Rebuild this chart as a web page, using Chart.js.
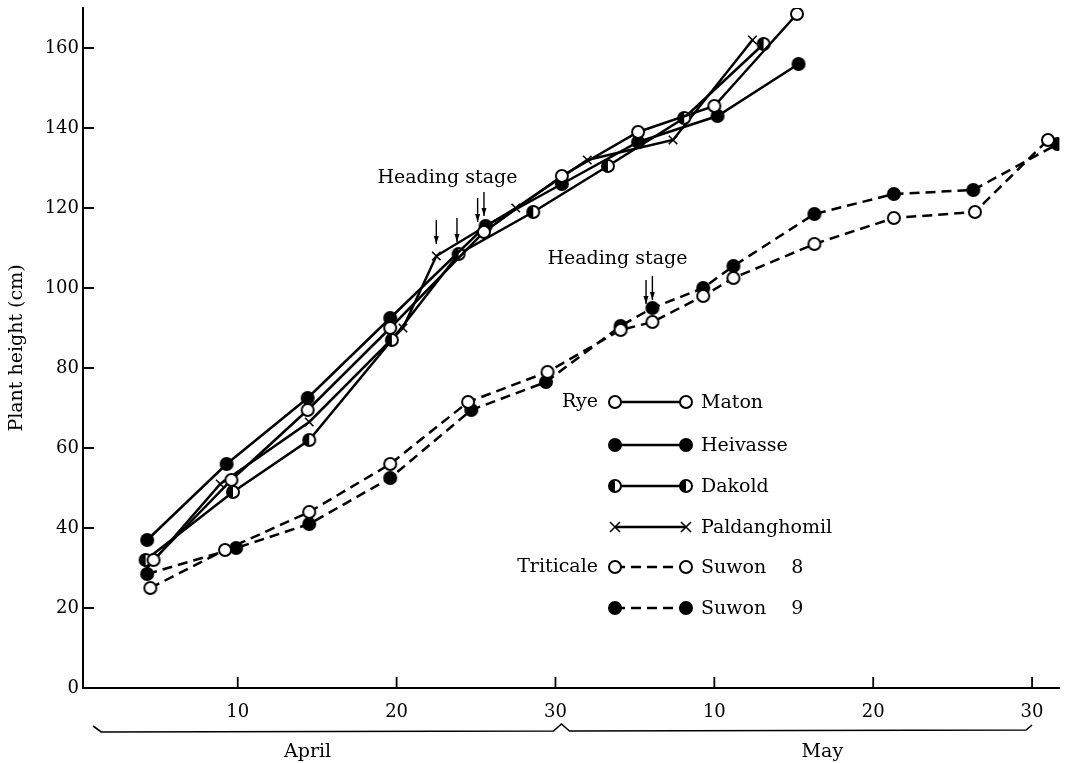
<!DOCTYPE html>
<html>
<head>
<meta charset="utf-8">
<script src="https://cdn.jsdelivr.net/npm/chart.js@4.4.1/dist/chart.umd.min.js"></script>
<style>
  body { margin: 0; background: #fff; }
  #wrap { width: 1067px; height: 763px; }
</style>
</head>
<body>
<div id="wrap"><canvas id="chart"></canvas></div>
<script>
// days counted from April 1 (day 30 = April 30, day 40 = May 10)
const matonDays = [4.7, 9.6, 14.4, 19.6, 25.5, 30.4, 35.2, 40.0, 45.2];
const matonHeight = [32, 52, 69.5, 90, 114, 128, 139, 145.5, 168.5];

const heivasseDays = [4.3, 9.3, 14.4, 19.6, 25.6, 30.4, 35.2, 40.2, 45.3];
const heivasseHeight = [37, 56, 72.5, 92.5, 115.5, 126, 136.5, 143, 156];

const dakoldDays = [4.2, 9.7, 14.5, 19.7, 23.9, 28.6, 33.3, 38.1, 43.1];
const dakoldHeight = [32, 49, 62, 87, 108.5, 119, 130.5, 142.5, 161];

const paldDays = [4.3, 8.9, 14.5, 20.4, 22.5, 27.5, 32.0, 37.4, 42.4];
const paldHeight = [30, 51, 66.5, 90, 108, 120, 132, 137, 162];

const suwon8Days = [4.5, 9.2, 14.5, 19.6, 24.5, 29.5, 34.1, 36.1, 39.3, 41.2, 46.3, 51.3, 56.4, 61.0];
const suwon8Height = [25, 34.5, 44, 56, 71.5, 79, 89.5, 91.5, 98, 102.5, 111, 117.5, 119, 137];

const suwon9Days = [4.3, 9.9, 14.5, 19.6, 24.7, 29.4, 34.1, 36.1, 39.3, 41.2, 46.3, 51.3, 56.3, 61.6];
const suwon9Height = [28.5, 35, 41, 52.5, 69.5, 76.5, 90.5, 95, 100, 105.5, 118.5, 123.5, 124.5, 136];

const xTickDays = [10, 20, 30, 40, 50, 60];
const xTickLabels = ['10', '20', '30', '10', '20', '30'];
const yTickValues = [0, 20, 40, 60, 80, 100, 120, 140, 160];

// heading stage arrows: [day, plant height at arrow tip]
const ryeHeading = [[22.5, 110], [23.8, 110.5], [25.1, 115.5], [25.5, 117]];
const triticaleHeading = [[35.7, 95], [36.1, 96]];

const legendNames = ['Maton', 'Heivasse', 'Dakold', 'Paldanghomil', 'Suwon\u2003 8', 'Suwon\u2003 9'];
const groupNames = ['Rye', 'Triticale'];

const SERIF = '"DejaVu Serif", "Liberation Serif", serif';

function makeMarker(kind) {
  const c = document.createElement('canvas');
  c.width = 16; c.height = 16;
  const g = c.getContext('2d');
  g.lineWidth = 2;
  g.strokeStyle = '#000';
  g.beginPath();
  g.arc(8, 8, 6, 0, Math.PI * 2);
  g.fillStyle = kind === 'filled' ? '#000' : '#fff';
  g.fill();
  g.stroke();
  if (kind === 'half') {
    g.beginPath();
    g.arc(8, 8, 6, Math.PI / 2, Math.PI * 1.5);
    g.closePath();
    g.fillStyle = '#000';
    g.fill();
  }
  return c;
}

const markers = {
  open: makeMarker('open'),
  filled: makeMarker('filled'),
  half: makeMarker('half')
};

const pts = (days, h) => days.map((d, i) => ({ x: d, y: h[i] }));

function series(label, days, h, style, dashed) {
  return {
    label: label,
    data: pts(days, h),
    borderColor: '#000',
    borderWidth: 2.5,
    borderDash: dashed ? [10, 6] : [],
    pointStyle: style === 'cross' ? 'crossRot' : markers[style],
    pointRadius: 6,
    pointBorderWidth: 1.6,
    pointBorderColor: '#000',
    pointBackgroundColor: '#000',
    tension: 0,
    fill: false
  };
}

const legendStyles = ['open', 'filled', 'half', 'cross', 'open', 'filled'];

function drawMark(ctx, style, x, y) {
  if (style === 'cross') {
    ctx.save();
    ctx.lineWidth = 1.6;
    ctx.beginPath();
    ctx.moveTo(x - 5, y - 5); ctx.lineTo(x + 5, y + 5);
    ctx.moveTo(x + 5, y - 5); ctx.lineTo(x - 5, y + 5);
    ctx.stroke();
    ctx.restore();
  } else {
    ctx.drawImage(markers[style], x - 8, y - 8);
  }
}

const extras = {
  id: 'extras',
  afterDraw(chart) {
    const ctx = chart.ctx;
    const xs = chart.scales.x, ys = chart.scales.y;
    const area = chart.chartArea;
    ctx.save();
    ctx.strokeStyle = '#000';
    ctx.fillStyle = '#000';

    // inward tick marks
    ctx.lineWidth = 1.8;
    ctx.beginPath();
    xTickDays.forEach(d => {
      const px = xs.getPixelForValue(d);
      ctx.moveTo(px, area.bottom);
      ctx.lineTo(px, area.bottom - 11);
    });
    yTickValues.forEach(v => {
      if (v === 0) return;
      const py = ys.getPixelForValue(v);
      ctx.moveTo(area.left, py);
      ctx.lineTo(area.left + 11, py);
    });
    ctx.stroke();

    // month braces
    const bY = area.bottom + 44;
    const xa = xs.getPixelForValue(0.9);
    const xm = xs.getPixelForValue(30) + 6;
    const xe = xs.getPixelForValue(60);
    ctx.lineWidth = 1.6;
    ctx.beginPath();
    ctx.moveTo(xa, bY - 6);
    ctx.lineTo(xa + 8, bY);
    ctx.lineTo(xm - 8, bY - 1);
    ctx.lineTo(xm, bY - 8);
    ctx.lineTo(xm + 8, bY - 1);
    ctx.lineTo(xe - 6, bY - 2);
    ctx.lineTo(xe, bY - 7);
    ctx.stroke();

    ctx.font = '19px ' + SERIF;
    ctx.textAlign = 'center';
    ctx.textBaseline = 'middle';
    ctx.fillText('April', xs.getPixelForValue(14.4), bY + 20);
    ctx.fillText('May', xs.getPixelForValue(46.8), bY + 20);

    // heading stage
    ctx.fillText('Heading stage', xs.getPixelForValue(23.2), ys.getPixelForValue(127.6));
    ctx.fillText('Heading stage', xs.getPixelForValue(33.9), ys.getPixelForValue(107.3));
    const arrow = (d, v) => {
      const x = xs.getPixelForValue(d);
      const y = ys.getPixelForValue(v) - 4;
      ctx.lineWidth = 1.4;
      ctx.beginPath();
      ctx.moveTo(x, y - 24);
      ctx.lineTo(x, y);
      ctx.stroke();
      ctx.beginPath();
      ctx.moveTo(x - 2.5, y - 8);
      ctx.lineTo(x + 2.5, y - 8);
      ctx.lineTo(x, y);
      ctx.closePath();
      ctx.fill();
    };
    ryeHeading.forEach(a => arrow(a[0], a[1]));
    triticaleHeading.forEach(a => arrow(a[0], a[1]));

    // legend
    const rows = [402, 445, 486, 527, 567, 608];
    const lx1 = 615, lx2 = 686;
    ctx.textAlign = 'left';
    rows.forEach((y, i) => {
      ctx.lineWidth = 2.5;
      ctx.setLineDash(i >= 4 ? [10, 6] : []);
      ctx.beginPath();
      ctx.moveTo(lx1, y);
      ctx.lineTo(lx2, y);
      ctx.stroke();
      ctx.setLineDash([]);
      drawMark(ctx, legendStyles[i], lx1, y);
      drawMark(ctx, legendStyles[i], lx2, y);
      ctx.fillText(legendNames[i], 701, y + 1);
    });
    ctx.textAlign = 'right';
    ctx.fillText(groupNames[0], 598, rows[0]);
    ctx.fillText(groupNames[1], 598, rows[4]);
    ctx.restore();
  }
};

new Chart(document.getElementById('chart'), {
  type: 'line',
  data: {
    datasets: [
      series('Maton', matonDays, matonHeight, 'open', false),
      series('Heivasse', heivasseDays, heivasseHeight, 'filled', false),
      series('Dakold', dakoldDays, dakoldHeight, 'half', false),
      series('Paldanghomil', paldDays, paldHeight, 'cross', false),
      series('Suwon 8', suwon8Days, suwon8Height, 'open', true),
      series('Suwon 9', suwon9Days, suwon9Height, 'filled', true)
    ]
  },
  options: {
    responsive: true,
    maintainAspectRatio: false,
    animation: false,
    events: [],
    layout: { padding: { top: 8, right: 7, left: 0, bottom: 0 } },
    plugins: { legend: { display: false }, tooltip: { enabled: false } },
    scales: {
      x: {
        type: 'linear',
        min: 0.26,
        max: 61.72,
        afterFit: s => { s.height = 75; s.paddingLeft = 0; s.paddingRight = 0; },
        afterBuildTicks: s => { s.ticks = xTickDays.map(v => ({ value: v })); },
        grid: { display: false, drawTicks: false },
        border: { display: true, color: '#000', width: 2 },
        ticks: {
          color: '#000',
          padding: 14,
          maxRotation: 0,
          font: { family: SERIF, size: 18 },
          callback: v => xTickLabels[xTickDays.indexOf(v)]
        }
      },
      y: {
        min: 0,
        max: 170,
        afterFit: s => { s.width = 83; s.paddingTop = 0; s.paddingBottom = 0; },
        afterBuildTicks: s => { s.ticks = yTickValues.map(v => ({ value: v })); },
        grid: { display: false, drawTicks: false },
        border: { display: true, color: '#000', width: 2 },
        title: {
          display: true,
          text: 'Plant height (cm)',
          color: '#000',
          padding: 6,
          font: { family: SERIF, size: 19 }
        },
        ticks: {
          color: '#000',
          padding: 4,
          font: { family: SERIF, size: 18 }
        }
      }
    }
  },
  plugins: [extras]
});
</script>
</body>
</html>
